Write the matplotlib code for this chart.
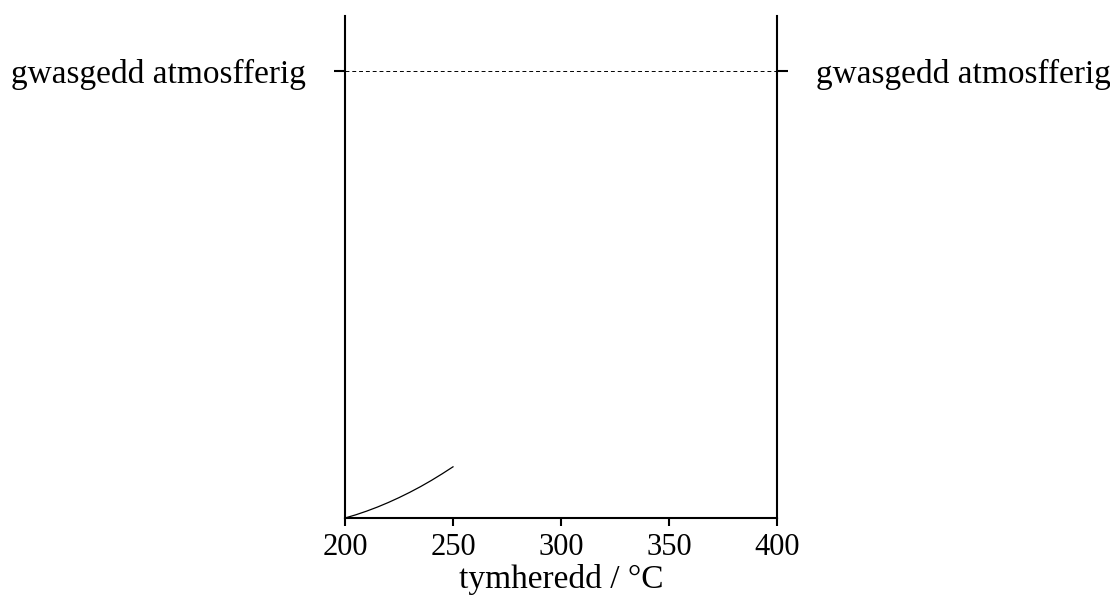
import matplotlib.pyplot as plt

# data
temps = [200, 205, 210, 215, 220, 225, 230, 235, 240, 245, 250]
pressure = [0.0, 0.0064, 0.0137, 0.0218, 0.0308, 0.0406,
            0.0512, 0.0626, 0.0749, 0.0881, 0.102]
atm_level = 0.89
xticks = [200, 250, 300, 350, 400]
atm_label = "gwasgedd atmosfferig"

plt.rcParams['font.family'] = ['Liberation Serif', 'DejaVu Serif']

fig = plt.figure(figsize=(11.1, 6.02), dpi=100)
ax = fig.add_axes([0.3108, 0.1395, 0.3892, 0.8339])

ax.plot(temps, pressure, color="black", lw=0.9)
ax.axhline(atm_level, color="black", lw=0.7, ls=(0, (4, 3)))

ax.set_xlim(200, 400)
ax.set_ylim(0, 1)
ax.spines["top"].set_visible(False)
for s in ["left", "right", "bottom"]:
    ax.spines[s].set_linewidth(1.5)

ax.set_xticks(xticks)
ax.set_xticklabels([str(t) for t in xticks], fontsize=22)
ax.tick_params(axis="x", direction="out", length=6, width=1.5, pad=5)

ax.set_yticks([atm_level])
ax.set_yticklabels([atm_label], fontsize=24)
ax.tick_params(axis="y", which="both", left=True, right=True,
               labelleft=True, labelright=True, direction="out",
               length=8, width=1.5, pad=20)

ax.set_xlabel("tymheredd / °C", fontsize=24, labelpad=1)

fig.savefig("out.png", dpi=100)
